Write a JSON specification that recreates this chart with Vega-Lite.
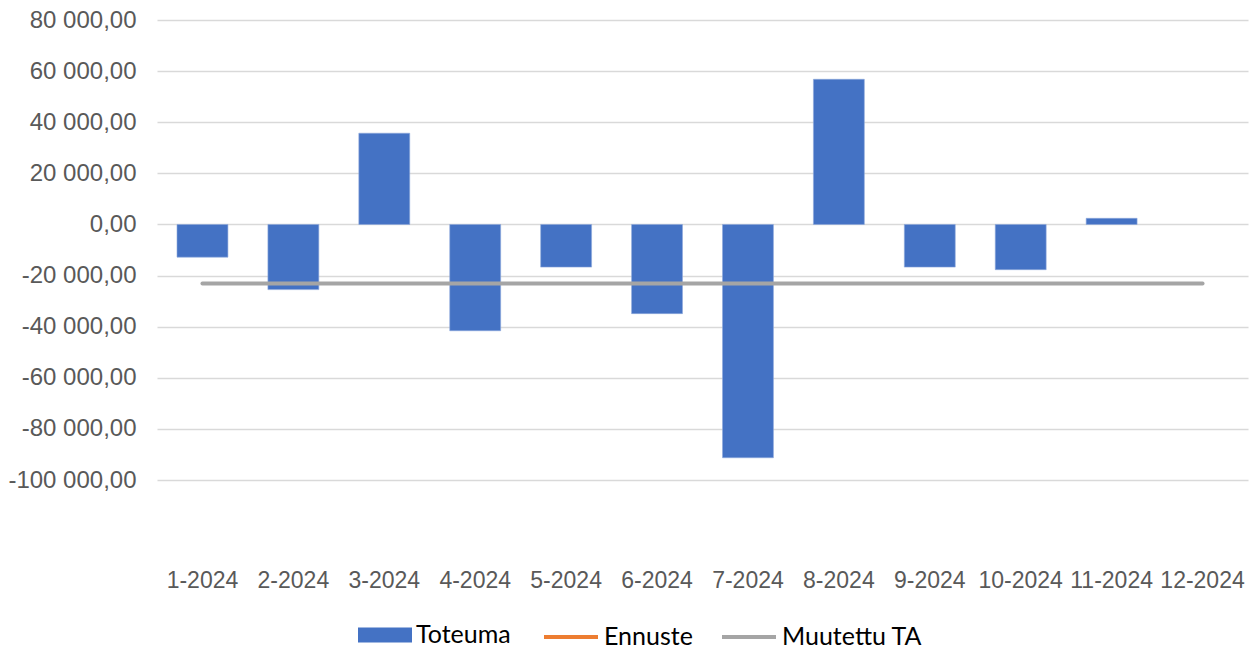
{
  "$schema": "https://vega.github.io/schema/vega-lite/v6.json",
  "autosize": "none",
  "width": 1091,
  "height": 460,
  "padding": {"left": 157, "top": 20, "right": 8, "bottom": 170},
  "background": "white",
  "config": {
    "locale": {"number": {"decimal": ",", "thousands": " ", "grouping": [3], "currency": ["", " €"], "minus": "-"}},
    "view": {"stroke": null},
    "axis": {"labelFont": "Liberation Sans", "labelFontSize": 23, "labelColor": "#595959", "ticks": false, "domain": false},
    "legend": {"labelFont": "Lato", "labelFontSize": 25, "labelColor": "#000000", "labelOffset": 4, "columnPadding": 21, "symbolSize": 2916, "padding": 0, "direction": "horizontal", "orient": "none", "title": null}
  },
  "datasets": {
    "d": [
      {"kk": "1-2024", "Toteuma": -12800, "TA": -23100},
      {"kk": "2-2024", "Toteuma": -25500, "TA": -23100},
      {"kk": "3-2024", "Toteuma": 35700, "TA": -23100},
      {"kk": "4-2024", "Toteuma": -41600, "TA": -23100},
      {"kk": "5-2024", "Toteuma": -16700, "TA": -23100},
      {"kk": "6-2024", "Toteuma": -34900, "TA": -23100},
      {"kk": "7-2024", "Toteuma": -91300, "TA": -23100},
      {"kk": "8-2024", "Toteuma": 56800, "TA": -23100},
      {"kk": "9-2024", "Toteuma": -16700, "TA": -23100},
      {"kk": "10-2024", "Toteuma": -17700, "TA": -23100},
      {"kk": "11-2024", "Toteuma": 2400, "TA": -23100},
      {"kk": "12-2024", "Toteuma": null, "TA": -23100}
    ]
  },
  "data": {"name": "d"},
  "encoding": {
    "x": {
      "field": "kk", "type": "ordinal", "sort": null,
      "scale": {"paddingInner": 0.44, "paddingOuter": 0.22},
      "axis": {"title": null, "labelAngle": 0, "labelPadding": 89, "grid": false}
    }
  },
  "layer": [
    {
      "mark": {"type": "bar", "stroke": "#8FA9DC", "strokeWidth": 0.6},
      "encoding": {
        "y": {
          "field": "Toteuma", "type": "quantitative",
          "scale": {"domain": [-100000, 80000], "nice": false, "zero": false},
          "axis": {"title": null, "values": [-100000, -80000, -60000, -40000, -20000, 0, 20000, 40000, 60000, 80000], "format": ",.2f", "labelPadding": 21, "labelFontSize": 24, "grid": true, "gridColor": "#D9D9D9", "gridWidth": 1.5}
        },
        "color": {
          "datum": "Toteuma",
          "scale": {"domain": ["Toteuma"], "range": ["#4472C4"]},
          "legend": {
            "legendX": 201,
            "legendY": 588,
            "symbolType": "M-1,-0.28H1V0.28H-1Z",
            "symbolStrokeWidth": 0,
            "symbolOpacity": 1
          }
        }
      }
    },
    {
      "mark": {"type": "line", "strokeWidth": 4, "strokeCap": "round"},
      "encoding": {
        "y": {"field": "TA", "type": "quantitative"},
        "color": {
          "datum": "Muutettu TA",
          "scale": {"domain": ["Ennuste", "Muutettu TA"], "range": ["#ED7D31", "#A5A5A5"]},
          "legend": {
            "legendX": 385,
            "legendY": 588,
            "symbolType": "stroke",
            "symbolStrokeWidth": 4,
            "symbolOpacity": 1
          }
        }
      }
    }
  ],
  "resolve": {"scale": {"color": "independent"}, "legend": {"color": "independent"}}
}
